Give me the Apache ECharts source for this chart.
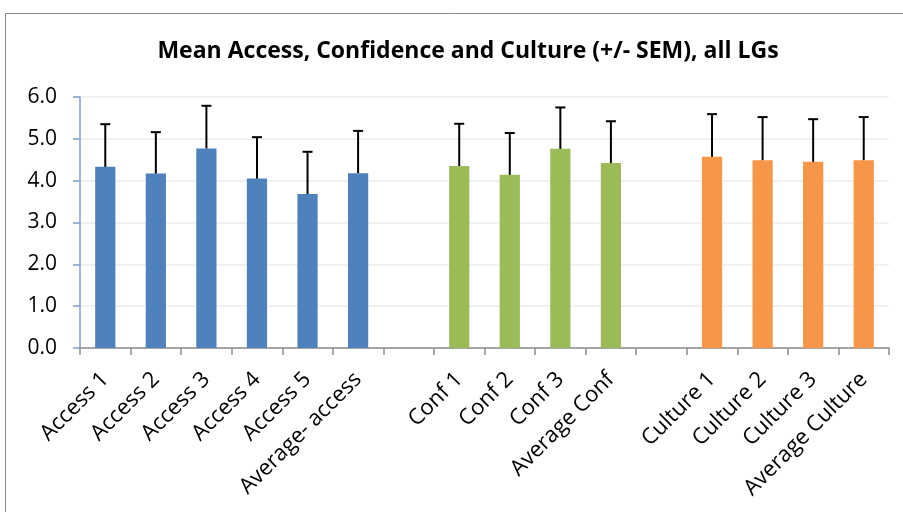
<!DOCTYPE html>
<html>
<head>
<meta charset="utf-8">
<script src="https://cdn.jsdelivr.net/npm/echarts@6/dist/echarts.min.js"></script>
<style>html,body{margin:0;padding:0;background:#fff;}#c{width:903px;height:512px;}</style>
</head>
<body>
<div id="c"></div>
<script>
const titleText = 'Mean Access, Confidence and Culture (+/- SEM), all LGs';
const categories = ['Access 1','Access 2','Access 3','Access 4','Access 5','Average- access','',
  'Conf 1','Conf 2','Conf 3','Average Conf','',
  'Culture 1','Culture 2','Culture 3','Average Culture'];
const accessMeans = [4.33, 4.17, 4.77, 4.05, 3.68, 4.18];
const accessSem   = [1.02, 0.99, 1.02, 0.99, 1.01, 1.01];
const confMeans   = [4.35, 4.14, 4.76, 4.42];
const confSem     = [1.01, 1.00, 0.99, 1.00];
const cultureMeans = [4.57, 4.49, 4.45, 4.49];
const cultureSem   = [1.02, 1.03, 1.02, 1.03];
const yTicks = [0, 1, 2, 3, 4, 5, 6];

const groups = [
  {name: 'Access', means: accessMeans, sem: accessSem, start: 0, color: '#4F81BD'},
  {name: 'Confidence', means: confMeans, sem: confSem, start: 7, color: '#9BBB59'},
  {name: 'Culture', means: cultureMeans, sem: cultureSem, start: 12, color: '#F79646'}
];

const series = [];
const errData = [];
groups.forEach(g => {
  const d = categories.map(() => '-');
  g.means.forEach((v, i) => {
    d[g.start + i] = v;
    errData.push([g.start + i, v, v + g.sem[i]]);
  });
  series.push({
    name: g.name, type: 'bar', data: d, barWidth: '40%', barGap: '-100%',
    itemStyle: {color: g.color}, z: 2
  });
});
series.push({
  type: 'custom', name: 'SEM', data: errData, z: 5,
  renderItem: function (params, api) {
    const x = api.value(0);
    const p0 = api.coord([x, api.value(1)]);
    const p1 = api.coord([x, api.value(2)]);
    const cap = 5;
    return {
      type: 'group',
      children: [
        {type: 'line', shape: {x1: p0[0], y1: p0[1], x2: p1[0], y2: p1[1]}, style: {stroke: '#000', lineWidth: 2}},
        {type: 'line', shape: {x1: p1[0] - cap, y1: p1[1], x2: p1[0] + cap, y2: p1[1]}, style: {stroke: '#000', lineWidth: 2}}
      ]
    };
  }
});

const chart = echarts.init(document.getElementById('c'), null, {renderer: 'canvas'});
chart.setOption({
  animation: false,
  backgroundColor: '#fff',
  title: {
    text: titleText, left: 463, top: 35, textAlign: 'center',
    textStyle: {fontFamily: 'Open Sans', fontWeight: 'bold', fontSize: 23, color: '#000'}
  },
  graphic: [{
    type: 'rect', shape: {x: 5.5, y: 13.5, width: 920, height: 520},
    style: {fill: 'none', stroke: '#8a8a8a', lineWidth: 1}, silent: true, z: -1
  }],
  grid: {left: 80, right: 14, top: 97, bottom: 164},
  xAxis: {
    type: 'category', data: categories,
    axisLine: {lineStyle: {color: '#8c8c8c', width: 1.5}},
    axisTick: {show: true, interval: 0, length: 7, lineStyle: {color: '#8c8c8c', width: 1.5}},
    axisLabel: {interval: 0, rotate: 45, margin: 28, fontFamily: 'Open Sans', fontSize: 22, color: '#000'}
  },
  yAxis: {
    type: 'value', min: yTicks[0], max: yTicks[yTicks.length - 1], interval: 1,
    axisLine: {show: true, lineStyle: {color: '#7f9fd0', width: 1.5}},
    axisTick: {show: true, length: 7, lineStyle: {color: '#7f9fd0', width: 1.5}},
    axisLabel: {margin: 23, fontFamily: 'Open Sans', fontSize: 21, color: '#000',
      formatter: v => v.toFixed(1)},
    splitLine: {lineStyle: {color: '#ececec', width: 1.5}}
  },
  series: series
});
</script>
</body>
</html>
